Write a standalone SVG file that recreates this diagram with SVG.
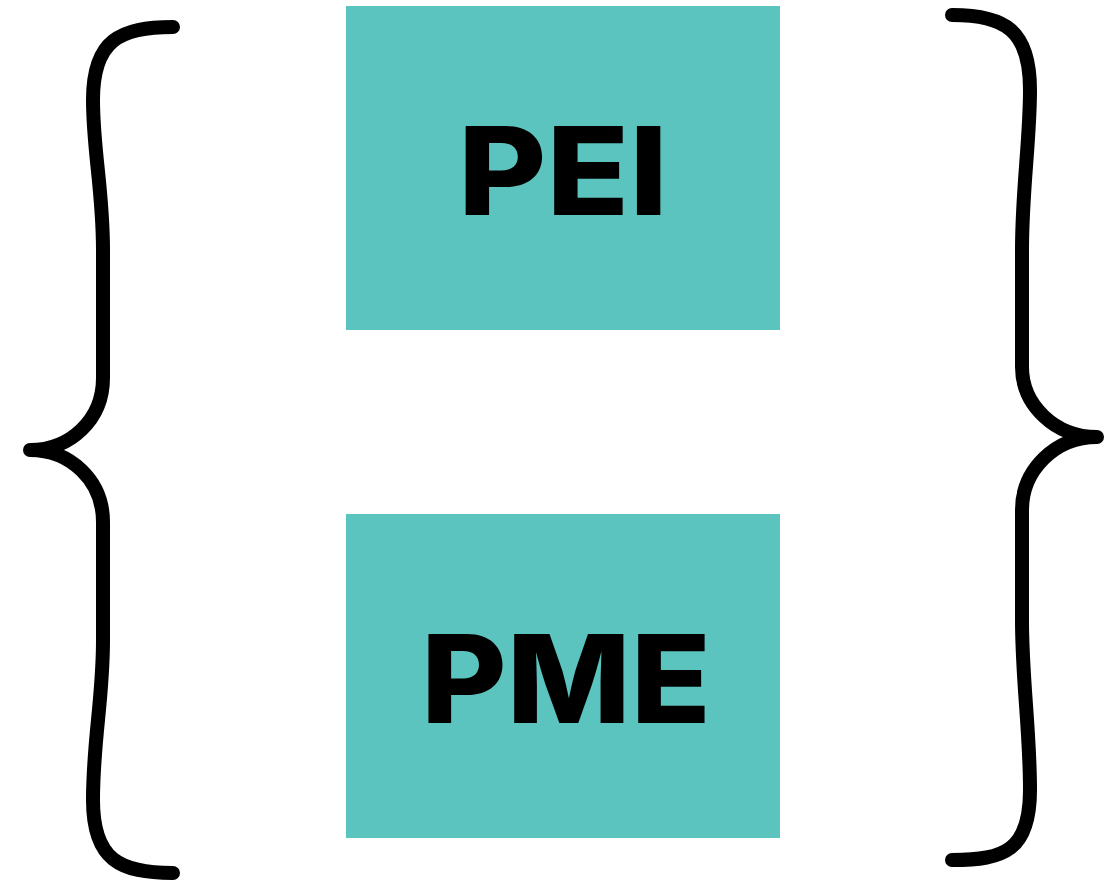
<svg xmlns="http://www.w3.org/2000/svg" width="1114" height="887" viewBox="0 0 1114 887">
  <style>
    .box { fill: #5CC4BE; }
    .label { font-family: Inter, "Liberation Sans", sans-serif; font-weight: 800; font-size: 122px; fill: #000; text-anchor: middle; }
    .brace { fill: none; stroke: #000; stroke-width: 14; stroke-linecap: round; stroke-linejoin: round; }
  </style>
  <rect width="1114" height="887" fill="#fff"/>
  <g id="connectors">
    <path class="brace" d="M173,27 C120,27 93,40 93,100 C93,150 103,190 103,250 L103,378 C103,420 70,450 30,450 C70,450 103,480 103,522 L103,640 C103,700 93,740 93,800 C93,860 120,873 173,873"/>
    <path class="brace" d="M952,15 C1005,15 1030,30 1030,90 C1030,140 1022,190 1022,250 L1022,367 C1022,405 1055,437 1097,437 C1055,437 1022,470 1022,510 L1022,620 C1022,680 1030,730 1030,790 C1030,850 1005,860 952,860"/>
  </g>
  <g id="pei">
    <rect class="box" x="346" y="6" width="434" height="324"/>
    <text class="label" x="563" y="215" textLength="210" lengthAdjust="spacingAndGlyphs">PEI</text>
  </g>
  <g id="pme">
    <rect class="box" x="346" y="514" width="434" height="324"/>
    <text class="label" x="566" y="723" textLength="290" lengthAdjust="spacingAndGlyphs">PME</text>
  </g>
</svg>
